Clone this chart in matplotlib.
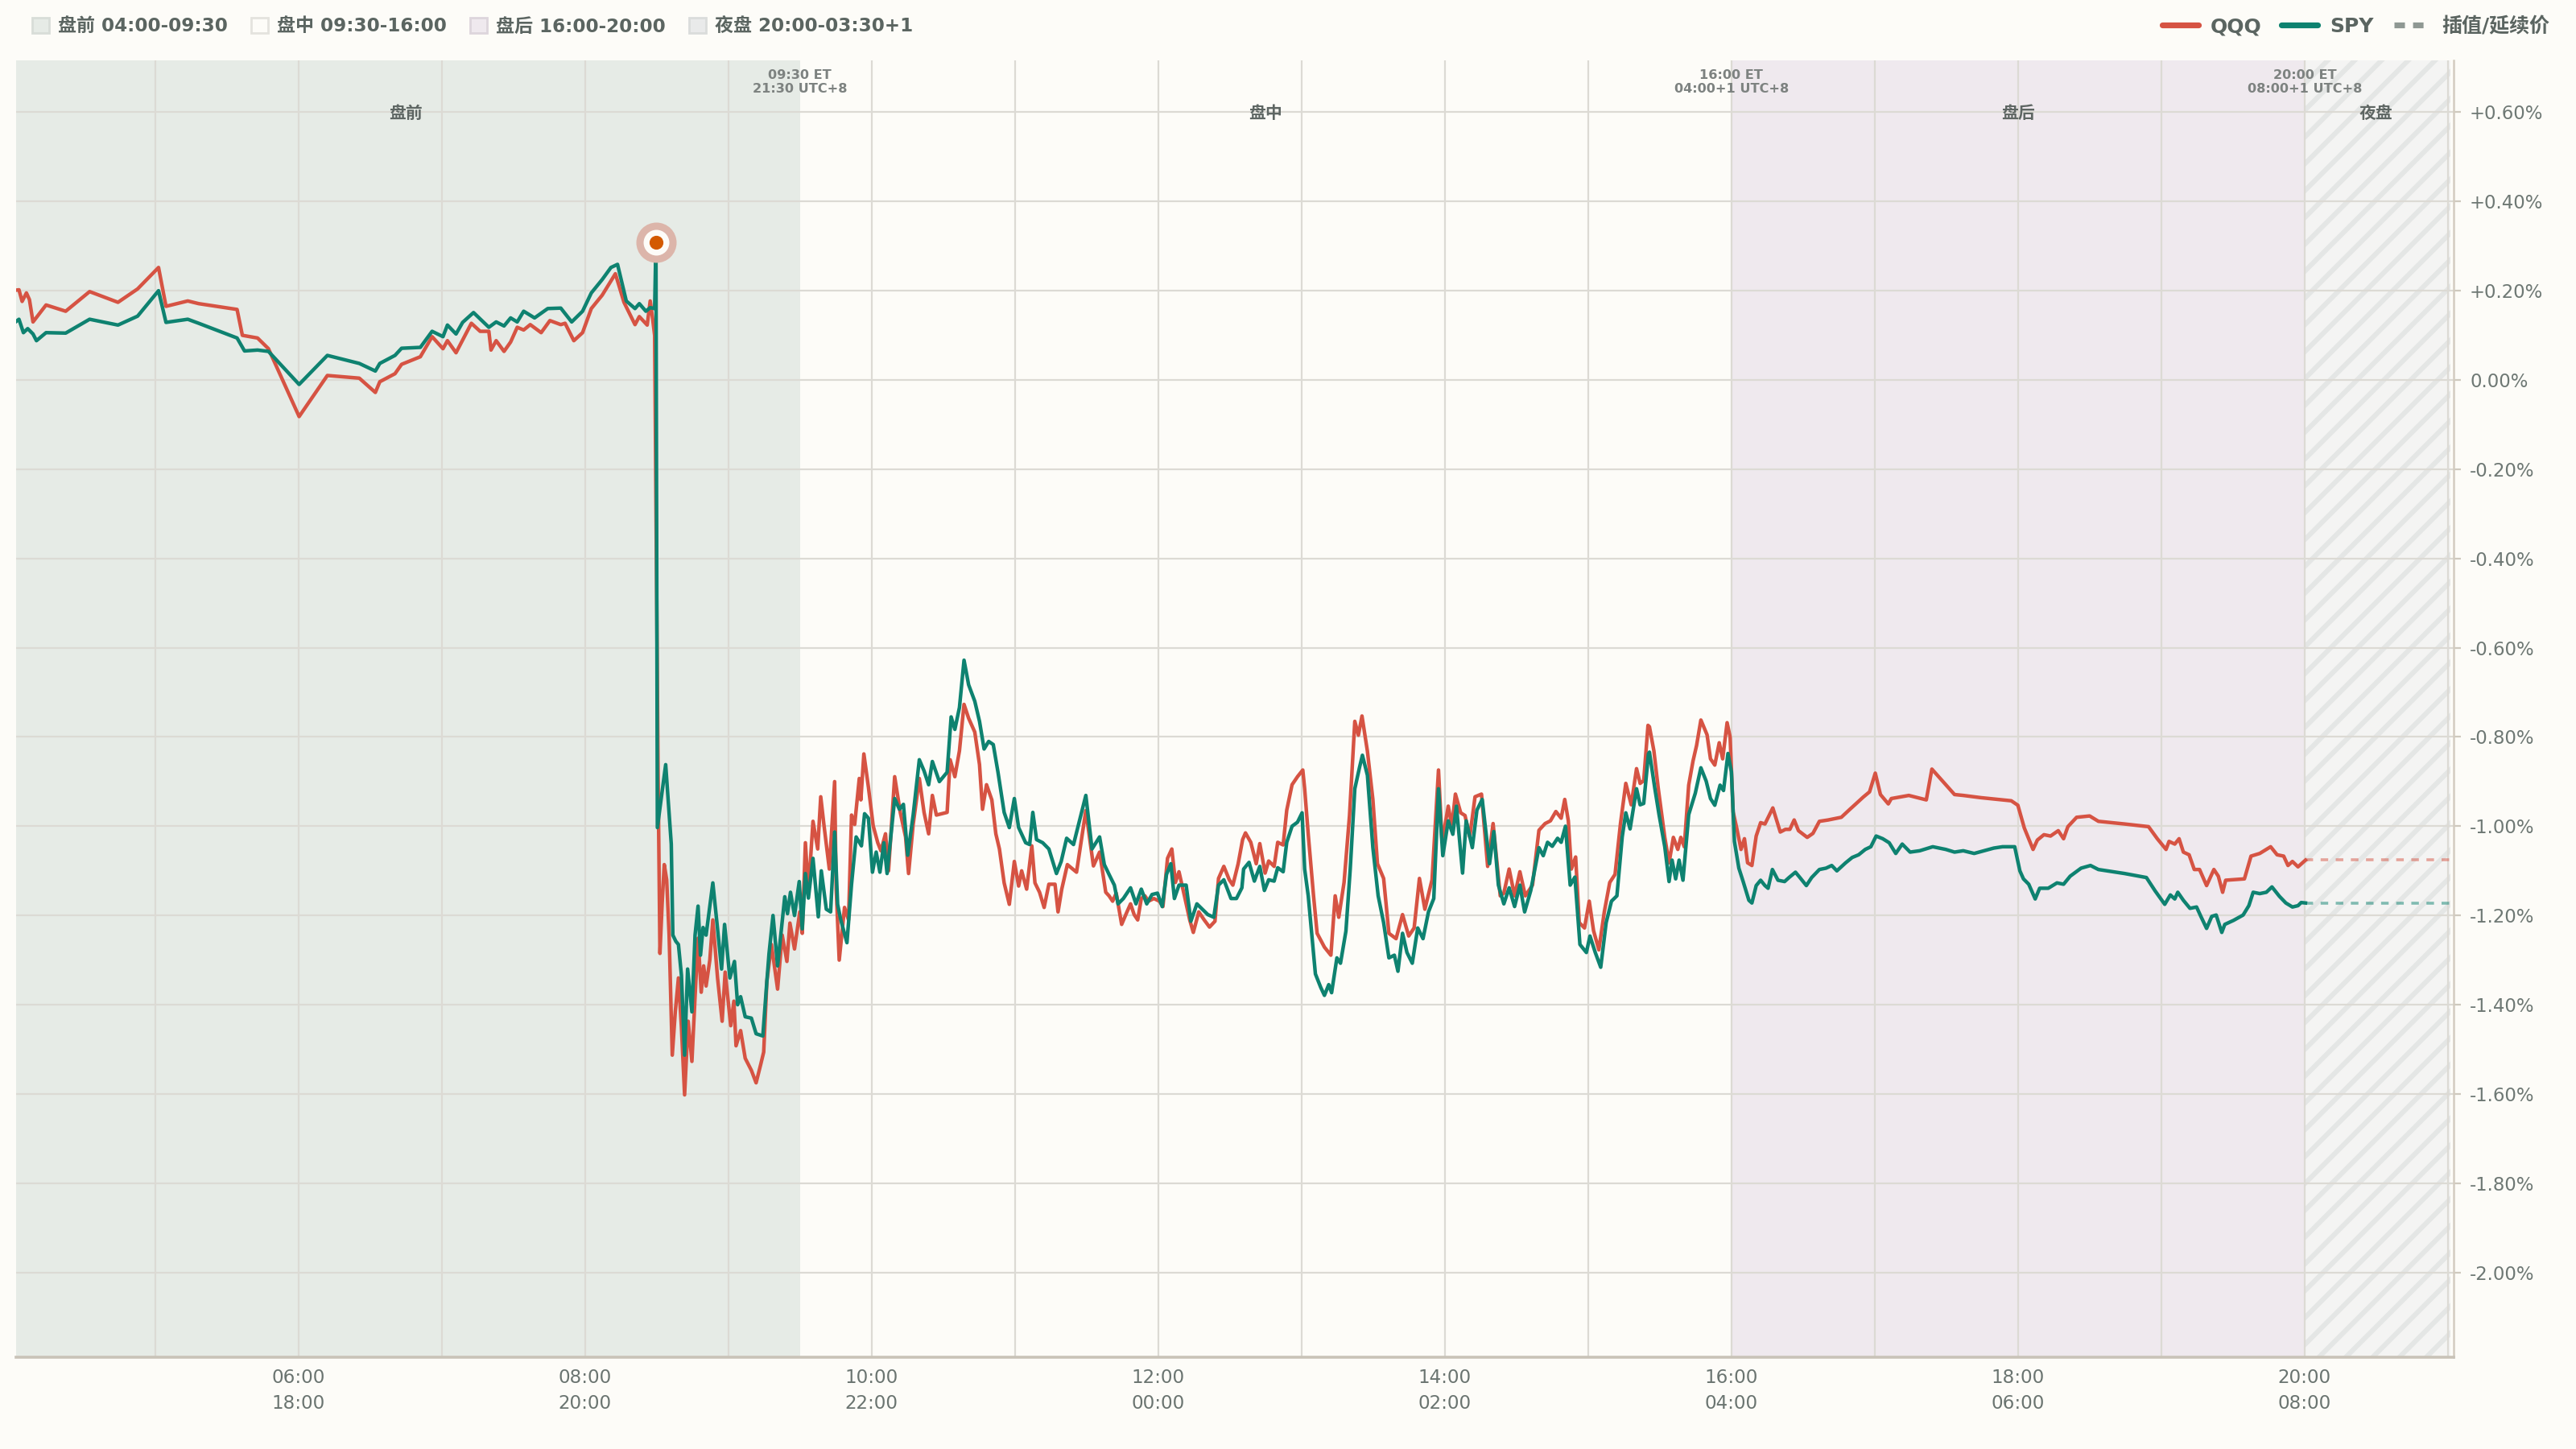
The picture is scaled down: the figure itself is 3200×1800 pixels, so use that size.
# QQQ / SPY intraday % change, ET clock with UTC+8 on the second tick line
import matplotlib.pyplot as plt
from matplotlib.patches import Patch
from matplotlib.lines import Line2D
from matplotlib.ticker import FuncFormatter
import matplotlib.transforms as mtransforms

#%% data (time = ET decimal hours, value = % change)

qqq_time = [
    4.026, 4.050, 4.072, 4.102, 4.123, 4.148, 4.239, 4.376, 4.543, 4.741, 4.878, 5.024, 5.076, 5.228,
    5.304, 5.572, 5.609, 5.715, 5.791, 6.005, 6.202, 6.425, 6.537, 6.568, 6.674, 6.720, 6.851, 6.933,
    7.009, 7.040, 7.100, 7.207, 7.268, 7.329, 7.344, 7.380, 7.435, 7.481, 7.527, 7.572, 7.618, 7.694,
    7.755, 7.831, 7.861, 7.922, 7.983, 8.044, 8.120, 8.212, 8.272, 8.349, 8.379, 8.434, 8.455, 8.470,
    8.486,
    8.510, 8.523, 8.538, 8.553, 8.570, 8.587, 8.609, 8.630, 8.652, 8.673, 8.695, 8.720, 8.746, 8.768,
    8.789, 8.811, 8.828, 8.845, 8.871, 8.892, 8.925, 8.957, 8.978, 9.017, 9.039, 9.054, 9.086, 9.118,
    9.161, 9.194, 9.226, 9.247, 9.269, 9.301, 9.344, 9.376, 9.409, 9.430, 9.462, 9.499, 9.516, 9.538,
    9.559, 9.591, 9.624, 9.645, 9.667, 9.705, 9.742, 9.753, 9.774, 9.811, 9.839, 9.860, 9.882, 9.914,
    9.925, 9.946, 9.978, 10.011, 10.043, 10.065, 10.097, 10.118, 10.161, 10.200, 10.237, 10.258,
    10.290, 10.333, 10.366, 10.398, 10.424, 10.452, 10.527, 10.548, 10.581, 10.613, 10.645, 10.677,
    10.720, 10.753, 10.774, 10.802, 10.839, 10.867, 10.892, 10.925, 10.961, 10.996, 11.026, 11.047,
    11.082, 11.118, 11.140, 11.172, 11.204, 11.237, 11.280, 11.301, 11.327, 11.366, 11.430, 11.495,
    11.548, 11.591, 11.634,
    11.657, 11.682, 11.707, 11.745, 11.782, 11.807, 11.832, 11.857, 11.882, 11.907, 11.932, 11.970,
    12.008, 12.033, 12.065, 12.095, 12.120, 12.145, 12.183, 12.220, 12.245, 12.283, 12.321, 12.358,
    12.396, 12.421, 12.458, 12.496, 12.521, 12.558, 12.589, 12.609, 12.646, 12.684, 12.709, 12.746,
    12.771, 12.809, 12.834, 12.872, 12.897, 12.934, 12.972, 13.009, 13.022, 13.047, 13.084, 13.109,
    13.160, 13.205, 13.235, 13.260, 13.297, 13.335, 13.372, 13.397, 13.422, 13.460, 13.498, 13.530,
    13.573, 13.610, 13.660, 13.705, 13.748, 13.786, 13.823, 13.861, 13.911, 13.956, 13.981, 14.024,
    14.049, 14.074, 14.111, 14.141, 14.174, 14.211, 14.256, 14.299, 14.337, 14.387, 14.412, 14.449,
    14.487, 14.524, 14.562, 14.612, 14.657, 14.700, 14.737, 14.775, 14.812, 14.837, 14.862, 14.883,
    14.913, 14.938, 14.975, 15.008, 15.038, 15.075, 15.113, 15.151, 15.188, 15.226, 15.263, 15.301,
    15.338, 15.363, 15.388, 15.418,
    15.428, 15.459, 15.489, 15.535, 15.565, 15.595, 15.626, 15.647, 15.671, 15.702, 15.732, 15.757,
    15.787, 15.830, 15.854, 15.884, 15.915, 15.939, 15.970, 15.991, 16.012, 16.037, 16.067, 16.091,
    16.113, 16.143, 16.173, 16.204, 16.234, 16.289, 16.341, 16.377, 16.408, 16.438, 16.468, 16.529,
    16.569, 16.614, 16.675, 16.721, 16.767, 16.827, 16.858, 16.919, 16.964, 17.004, 17.040, 17.095,
    17.116, 17.238, 17.360, 17.399, 17.557, 17.618, 17.740, 17.953, 17.999, 18.044, 18.105, 18.135,
    18.181, 18.227, 18.281, 18.318, 18.348, 18.409, 18.500, 18.561, 18.744, 18.911, 18.972, 19.033,
    19.054, 19.094, 19.124, 19.154, 19.194, 19.230, 19.267, 19.316, 19.367, 19.398, 19.428, 19.449,
    19.580, 19.626, 19.687, 19.763, 19.808, 19.854, 19.884, 19.915, 19.954, 20.006,
]
qqq_pct = [
    0.201, 0.202, 0.176, 0.195, 0.180, 0.130, 0.168, 0.154, 0.198, 0.174, 0.204, 0.252, 0.165, 0.177,
    0.171, 0.158, 0.100, 0.094, 0.070, -0.082, 0.010, 0.004, -0.028, -0.004, 0.014, 0.035, 0.052, 0.097,
    0.070, 0.088, 0.061, 0.127, 0.109, 0.109, 0.067, 0.088, 0.064, 0.085, 0.118, 0.112, 0.124, 0.106,
    0.133, 0.124, 0.127, 0.088, 0.106, 0.160, 0.190, 0.238, 0.174, 0.124, 0.142, 0.123, 0.177, 0.142,
    0.100,
    -0.886, -1.285, -1.175, -1.086, -1.120, -1.244, -1.513, -1.416, -1.340, -1.451, -1.602, -1.437, -1.527, -1.382,
    -1.251, -1.372, -1.313, -1.358, -1.300, -1.210, -1.340, -1.437, -1.327, -1.447, -1.392, -1.492, -1.458, -1.520,
    -1.547, -1.575, -1.534, -1.506, -1.348, -1.265, -1.365, -1.244, -1.303, -1.217, -1.275, -1.192, -1.240, -1.037,
    -1.148, -0.989, -1.051, -0.934, -0.996, -1.096, -0.900, -1.141, -1.300, -1.182, -1.210, -0.975, -0.996, -0.893,
    -0.941, -0.838, -0.913, -0.999, -1.037, -1.055, -1.017, -1.100, -0.889, -0.969, -1.024, -1.106,
    -0.996, -0.893, -0.969, -1.017, -0.931, -0.975, -0.969, -0.851, -0.889, -0.831, -0.727, -0.758,
    -0.789, -0.862, -0.962, -0.907, -0.941, -1.017, -1.051, -1.127, -1.175, -1.079, -1.134, -1.100,
    -1.141, -1.044, -1.127, -1.148, -1.182, -1.130, -1.130, -1.192, -1.141, -1.086, -1.103, -0.965,
    -1.089, -1.058, -1.148,
    -1.156, -1.168, -1.150, -1.220, -1.192, -1.174, -1.198, -1.210, -1.162, -1.156, -1.168, -1.162,
    -1.168, -1.180, -1.072, -1.051, -1.126, -1.102, -1.156, -1.210, -1.238, -1.192, -1.210, -1.226,
    -1.213, -1.117, -1.090, -1.120, -1.132, -1.084, -1.030, -1.015, -1.036, -1.084, -1.039, -1.105,
    -1.078, -1.090, -1.036, -1.042, -0.964, -0.907, -0.889, -0.874, -0.916, -1.018, -1.156, -1.240,
    -1.271, -1.289, -1.156, -1.204, -1.126, -0.976, -0.765, -0.796, -0.753, -0.832, -0.940, -1.084,
    -1.117, -1.240, -1.252, -1.198, -1.246, -1.228, -1.117, -1.186, -1.120, -0.874, -1.036, -0.955,
    -1.000, -0.928, -0.970, -0.976, -1.024, -0.934, -0.928, -1.090, -0.994, -1.156, -1.150, -1.096,
    -1.156, -1.102, -1.156, -1.132, -1.009, -0.994, -0.988, -0.967, -0.982, -0.940, -0.988, -1.096,
    -1.069, -1.216, -1.228, -1.168, -1.234, -1.277, -1.192, -1.126, -1.108, -0.994, -0.904, -0.952,
    -0.871, -0.904, -0.898, -0.774,
    -0.777, -0.831, -0.914, -1.025, -1.082, -1.025, -1.052, -1.025, -1.046, -0.908, -0.854, -0.819,
    -0.762, -0.795, -0.849, -0.863, -0.813, -0.849, -0.768, -0.800, -0.968, -1.004, -1.052, -1.028,
    -1.082, -1.088, -1.022, -0.992, -0.995, -0.959, -1.013, -1.007, -1.007, -0.986, -1.010, -1.025,
    -1.016, -0.989, -0.986, -0.983, -0.980, -0.962, -0.953, -0.935, -0.923, -0.881, -0.929, -0.950,
    -0.938, -0.931, -0.941, -0.872, -0.929, -0.931, -0.936, -0.943, -0.953, -1.004, -1.052, -1.031,
    -1.019, -1.022, -1.010, -1.028, -1.001, -0.980, -0.977, -0.989, -0.995, -1.001, -1.028, -1.052,
    -1.034, -1.040, -1.028, -1.058, -1.064, -1.097, -1.097, -1.133, -1.097, -1.112, -1.148, -1.121,
    -1.118, -1.067, -1.061, -1.046, -1.064, -1.067, -1.088, -1.079, -1.091, -1.076,
]

spy_time = [
    4.026, 4.050, 4.081, 4.111, 4.148, 4.172, 4.239, 4.376, 4.543, 4.741, 4.878, 5.024, 5.076, 5.228,
    5.304, 5.572, 5.624, 5.715, 5.791, 6.005, 6.202, 6.425, 6.537, 6.568, 6.674, 6.720, 6.851, 6.933,
    7.009, 7.040, 7.100, 7.146, 7.222, 7.329, 7.380, 7.435, 7.481, 7.527, 7.572, 7.648, 7.740, 7.831,
    7.907, 7.983, 8.044, 8.120, 8.181, 8.227, 8.288, 8.349, 8.379, 8.425, 8.455, 8.486, 8.495,
    8.505, 8.563, 8.602, 8.613, 8.634, 8.652, 8.673, 8.695, 8.716, 8.746, 8.768, 8.789, 8.806, 8.824,
    8.845, 8.892, 8.925, 8.953, 8.974, 9.011, 9.043, 9.065, 9.086, 9.118, 9.161, 9.194, 9.241, 9.269,
    9.284, 9.312, 9.344, 9.366, 9.394, 9.413, 9.434, 9.462, 9.495, 9.516, 9.538, 9.559, 9.591, 9.628,
    9.649, 9.684, 9.714, 9.742, 9.763, 9.785, 9.828, 9.860, 9.892, 9.929, 9.951, 9.978, 10.006,
    10.032, 10.058, 10.086, 10.108, 10.161, 10.194, 10.222, 10.252, 10.290, 10.333, 10.366, 10.398,
    10.424, 10.473, 10.527, 10.555, 10.581, 10.613, 10.645, 10.677, 10.720, 10.753, 10.785, 10.817,
    10.849, 10.882, 10.925, 10.961, 10.996, 11.026, 11.075, 11.103, 11.125, 11.151, 11.194, 11.237,
    11.290, 11.323, 11.361, 11.409, 11.495, 11.538, 11.591, 11.624,
    11.657, 11.694, 11.720, 11.757, 11.807, 11.845, 11.882, 11.920, 11.957, 11.995, 12.028, 12.058,
    12.088, 12.113, 12.145, 12.195, 12.228, 12.270, 12.308, 12.346, 12.388, 12.421, 12.458, 12.508,
    12.546, 12.584, 12.596, 12.634, 12.671, 12.709, 12.741, 12.771, 12.809, 12.834, 12.872, 12.897,
    12.934, 12.972, 13.004, 13.022, 13.047, 13.097, 13.134, 13.160, 13.190, 13.210, 13.247, 13.272,
    13.310, 13.340, 13.372, 13.405, 13.425, 13.460, 13.498, 13.535, 13.573, 13.610, 13.648, 13.673,
    13.705, 13.736, 13.773, 13.811, 13.848, 13.886, 13.923, 13.956, 13.986, 14.024, 14.056, 14.081,
    14.124, 14.149, 14.192, 14.224, 14.261, 14.312, 14.342, 14.374, 14.412, 14.449, 14.487, 14.524,
    14.557, 14.600, 14.657, 14.687, 14.717, 14.750, 14.787, 14.812, 14.842, 14.875, 14.908, 14.943,
    14.988, 15.013, 15.050, 15.088, 15.126, 15.163, 15.201, 15.238, 15.263, 15.293, 15.338, 15.363,
    15.388, 15.421,
    15.428, 15.465, 15.495, 15.535, 15.565, 15.586, 15.611, 15.635, 15.662, 15.702, 15.748, 15.787,
    15.824, 15.854, 15.884, 15.921, 15.945, 15.976, 16.000, 16.021, 16.052, 16.082, 16.122, 16.143,
    16.173, 16.204, 16.234, 16.256, 16.286, 16.325, 16.371, 16.402, 16.447, 16.478, 16.523, 16.560,
    16.614, 16.660, 16.700, 16.736, 16.797, 16.843, 16.888, 16.934, 16.973, 17.010, 17.056, 17.101,
    17.147, 17.192, 17.247, 17.314, 17.405, 17.496, 17.557, 17.618, 17.694, 17.831, 17.892, 17.977,
    18.013, 18.038, 18.075, 18.120, 18.151, 18.211, 18.272, 18.318, 18.364, 18.440, 18.506, 18.561,
    18.744, 18.896, 18.957, 19.024, 19.063, 19.094, 19.115, 19.154, 19.200, 19.246, 19.276, 19.316,
    19.352, 19.383, 19.422, 19.443, 19.504, 19.571, 19.611, 19.641, 19.687, 19.733, 19.772, 19.824,
    19.869, 19.915, 19.954, 19.976, 20.006,
]
spy_pct = [
    0.130, 0.136, 0.106, 0.115, 0.103, 0.088, 0.106, 0.105, 0.136, 0.123, 0.143, 0.200, 0.129, 0.136,
    0.127, 0.094, 0.065, 0.067, 0.064, -0.010, 0.055, 0.037, 0.020, 0.037, 0.055, 0.071, 0.073, 0.109,
    0.097, 0.123, 0.103, 0.129, 0.151, 0.118, 0.130, 0.121, 0.139, 0.130, 0.154, 0.139, 0.160, 0.161,
    0.130, 0.154, 0.195, 0.225, 0.252, 0.259, 0.177, 0.160, 0.171, 0.154, 0.162, 0.160, 0.308,
    -1.003, -0.862, -1.040, -1.244, -1.258, -1.265, -1.334, -1.513, -1.320, -1.416, -1.244, -1.179, -1.289, -1.227,
    -1.244, -1.127, -1.230, -1.320, -1.220, -1.340, -1.303, -1.400, -1.382, -1.427, -1.430, -1.465, -1.470, -1.348,
    -1.286, -1.200, -1.313, -1.244, -1.158, -1.196, -1.148, -1.200, -1.124, -1.230, -1.106, -1.161, -1.072, -1.203,
    -1.100, -1.186, -1.192, -1.013, -1.175, -1.210, -1.261, -1.130, -1.024, -1.044, -0.972, -0.982, -1.103,
    -1.058, -1.103, -1.037, -1.106, -0.938, -0.962, -0.951, -1.065, -0.975, -0.851, -0.876, -0.907,
    -0.855, -0.900, -0.879, -0.755, -0.783, -0.734, -0.628, -0.683, -0.720, -0.765, -0.827, -0.810,
    -0.817, -0.879, -0.969, -1.003, -0.938, -1.003, -1.037, -1.041, -0.969, -1.030, -1.037, -1.051,
    -1.106, -1.079, -1.027, -1.041, -0.931, -1.051, -1.024, -1.086,
    -1.108, -1.132, -1.174, -1.162, -1.138, -1.174, -1.141, -1.174, -1.153, -1.150, -1.180, -1.108,
    -1.084, -1.162, -1.132, -1.132, -1.213, -1.174, -1.186, -1.198, -1.204, -1.132, -1.120, -1.162,
    -1.162, -1.138, -1.096, -1.081, -1.123, -1.090, -1.144, -1.120, -1.123, -1.093, -1.102, -1.036,
    -1.000, -0.991, -0.970, -1.096, -1.156, -1.331, -1.361, -1.379, -1.355, -1.373, -1.295, -1.307,
    -1.235, -1.096, -0.916, -0.868, -0.841, -0.886, -1.048, -1.156, -1.216, -1.295, -1.289, -1.325,
    -1.240, -1.283, -1.307, -1.228, -1.252, -1.192, -1.162, -0.916, -1.066, -0.988, -1.018, -0.955,
    -1.105, -0.988, -1.048, -0.964, -0.940, -1.084, -1.012, -1.132, -1.174, -1.138, -1.180, -1.132,
    -1.192, -1.144, -1.048, -1.066, -1.036, -1.045, -1.027, -1.036, -1.000, -1.132, -1.114, -1.265,
    -1.283, -1.246, -1.283, -1.316, -1.216, -1.168, -1.156, -1.024, -0.970, -1.006, -0.916, -0.952,
    -0.949, -0.838,
    -0.834, -0.914, -0.974, -1.046, -1.124, -1.076, -1.118, -1.076, -1.121, -0.974, -0.926, -0.869,
    -0.899, -0.938, -0.953, -0.908, -0.920, -0.837, -0.878, -1.034, -1.094, -1.124, -1.166, -1.172,
    -1.133, -1.121, -1.133, -1.139, -1.097, -1.121, -1.124, -1.115, -1.103, -1.115, -1.133, -1.115,
    -1.097, -1.094, -1.088, -1.100, -1.082, -1.070, -1.064, -1.052, -1.046, -1.022, -1.028, -1.037,
    -1.061, -1.040, -1.058, -1.055, -1.046, -1.052, -1.058, -1.055, -1.061, -1.049, -1.046, -1.046,
    -1.100, -1.118, -1.130, -1.163, -1.139, -1.139, -1.127, -1.130, -1.112, -1.094, -1.088, -1.097,
    -1.106, -1.115, -1.145, -1.175, -1.154, -1.163, -1.148, -1.166, -1.184, -1.181, -1.202, -1.229,
    -1.202, -1.199, -1.238, -1.220, -1.211, -1.199, -1.178, -1.148, -1.151, -1.148, -1.136, -1.157,
    -1.172, -1.181, -1.178, -1.171, -1.172,
]

# highlighted point (08:30 ET)
event_time = 8.495
event_pct = 0.308

# continuation after 20:00 (flat at last price)
carry_end = 21.02

sessions = [  # name, start, end
    ('盘前', 4.0, 9.5),
    ('盘中', 9.5, 16.0),
    ('盘后', 16.0, 20.0),
    ('夜盘', 20.0, 21.0),
]
session_legend = ['盘前 04:00-09:30', '盘中 09:30-16:00', '盘后 16:00-20:00', '夜盘 20:00-03:30+1']
marks = [(9.5, '09:30 ET\n21:30 UTC+8'), (16.0, '16:00 ET\n04:00+1 UTC+8'), (20.0, '20:00 ET\n08:00+1 UTC+8')]
xticks = [6, 8, 10, 12, 14, 16, 18, 20]
yticks = [-2.0, -1.8, -1.6, -1.4, -1.2, -1.0, -0.8, -0.6, -0.4, -0.2, 0.0, 0.2, 0.4, 0.6]

#%% style
BG = '#fdfcf8'
PRE = '#e6ebe6'
POST = '#efe9ee'
NIGHT = '#f4f4f3'
GRID = '#dcdad4'
C_QQQ = '#d65343'
C_SPY = '#0e8270'
TXT = '#5b6561'

plt.rcParams['font.family'] = ['DejaVu Sans', 'Noto Sans CJK SC']
plt.rcParams['hatch.linewidth'] = 2.2

fig = plt.figure(figsize=(16, 9), dpi=200, facecolor=BG)
ax = fig.add_axes([0.00625, 0.0633, 0.94625, 0.895])
ax.set_facecolor(BG)
ax.set_xlim(4.03, 21.04)
ax.set_ylim(-2.19, 0.716)

ax.axvspan(4.0, 9.5, color=PRE, lw=0, zorder=0.1)
ax.axvspan(16.0, 20.0, color=POST, lw=0, zorder=0.1)
ax.axvspan(20.0, carry_end, facecolor=NIGHT, edgecolor='#e4e6e5', hatch='//', lw=0, zorder=0.1)

ax.set_axisbelow(True)
ax.set_xticks(range(5, 22), minor=True)
ax.grid(which='both', axis='x', color=GRID, lw=0.8)
ax.grid(which='major', axis='y', color=GRID, lw=0.8)

ax.plot(qqq_time, qqq_pct, color=C_QQQ, lw=1.6, zorder=3, solid_joinstyle='round')
ax.plot(spy_time, spy_pct, color=C_SPY, lw=1.6, zorder=4, solid_joinstyle='round')
ax.plot([qqq_time[-1], carry_end], [qqq_pct[-1]] * 2, color=C_QQQ, alpha=0.5, lw=1.3,
        dashes=(2.6, 2.6), zorder=3)
ax.plot([spy_time[-1], carry_end], [spy_pct[-1]] * 2, color=C_SPY, alpha=0.5, lw=1.3,
        dashes=(2.6, 2.6), zorder=4)

ax.plot(event_time, event_pct, 'o', ms=17, color='#dcb5aa', zorder=6)
ax.plot(event_time, event_pct, 'o', ms=10.5, color=BG, zorder=7)
ax.plot(event_time, event_pct, 'o', ms=5.2, color='#d35a00', zorder=8)

# axes
ax.yaxis.tick_right()
ax.set_yticks(yticks)
ax.yaxis.set_major_formatter(FuncFormatter(lambda v, p: '0.00%' if abs(v) < 1e-9 else f'{v:+.2f}%'))
ax.tick_params(axis='y', length=3.2, width=0.8, color='#cfc9be', labelsize=8.2, labelcolor='#6e7874', pad=4)
ax.set_xticks(xticks)
ax.set_xticklabels([f'{h:02d}:00\n{(h + 12) % 24:02d}:00' for h in xticks])
ax.tick_params(axis='x', which='both', length=0, labelsize=8.3, labelcolor='#6a7470', pad=5)
for lab in ax.get_xticklabels():
    lab.set_linespacing(1.5)

for s in ['top', 'left']:
    ax.spines[s].set_visible(False)
ax.spines['bottom'].set_color('#c9c3b8')
ax.spines['bottom'].set_linewidth(1.3)
ax.spines['right'].set_color('#d3ccc0')
ax.spines['right'].set_linewidth(0.9)

# session names and boundary marks
trans = mtransforms.blended_transform_factory(ax.transData, ax.transAxes)
for name, a, b in sessions:
    ax.text((a + b) / 2, 0.959, name, transform=trans, ha='center', va='center',
            fontsize=7.5, fontweight='bold', color='#5e6663', zorder=9)
for x, label in marks:
    ax.text(x, 0.993, label, transform=trans, ha='center', va='top', fontsize=5.8,
            fontweight='bold', color='#7d8280', linespacing=1.15, zorder=9)

# legends on top
session_handles = [
    Patch(facecolor=PRE, edgecolor='#d8ddd8'),
    Patch(facecolor=BG, edgecolor='#e4e3de'),
    Patch(facecolor=POST, edgecolor='#ddd5dc'),
    Patch(facecolor='#e9eaea', edgecolor='#dadcdb'),
]
fig.legend(session_handles, session_legend, loc='center left', bbox_to_anchor=(0.0125, 0.9817),
           ncol=4, frameon=False, prop=dict(weight='bold', size=8.3), labelcolor=TXT,
           handlelength=0.9, handleheight=0.9, handletextpad=0.5, columnspacing=1.25,
           borderaxespad=0, borderpad=0)

line_handles = [
    Line2D([], [], color=C_QQQ, lw=2.6, solid_capstyle='round'),
    Line2D([], [], color=C_SPY, lw=2.6, solid_capstyle='round'),
    Line2D([], [], color='#8f9893', lw=2.6, dashes=(1.8, 1.4)),
]
fig.legend(line_handles, ['QQQ', 'SPY', '插值/延续价'], loc='center right', bbox_to_anchor=(0.99, 0.9817),
           ncol=3, frameon=False, prop=dict(weight='bold', size=9), labelcolor=TXT,
           handlelength=1.8, handletextpad=0.6, columnspacing=1.0, borderaxespad=0, borderpad=0)

fig.savefig('out.png', dpi=200, facecolor=BG)
